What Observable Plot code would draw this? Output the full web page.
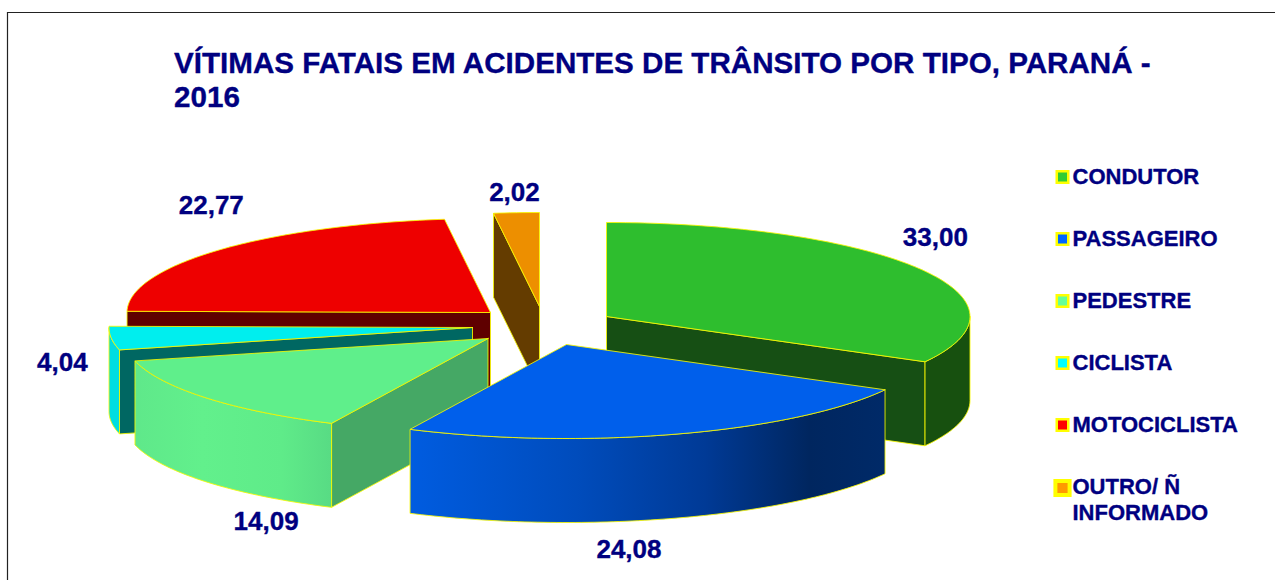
<!DOCTYPE html>
<html lang="pt">
<head>
<meta charset="utf-8">
<title>Vítimas fatais em acidentes de trânsito por tipo, Paraná - 2016</title>
<script src="https://cdn.jsdelivr.net/npm/d3@7"></script>
<script src="https://cdn.jsdelivr.net/npm/@observablehq/plot@0.6"></script>
<style>
  html, body { margin: 0; padding: 0; background: #fff; }
  svg { display: block; }
</style>
</head>
<body>
<div id="chart"></div>
<script>
// --- Data ---
const categories = ["CONDUTOR", "PASSAGEIRO", "PEDESTRE", "CICLISTA", "MOTOCICLISTA", "OUTRO/ Ñ\nINFORMADO"];
const values = [33.00, 24.08, 14.09, 4.04, 22.77, 2.02];
const titleText = "VÍTIMAS FATAIS EM ACIDENTES DE TRÂNSITO POR TIPO, PARANÁ -\n2016";

// --- Styles ---
const navy = "#000080";
const edge = "#f8f800";
const topColors = ["#2EBE2E", "#005FEB", "#5FEF8B", "#00EEEE", "#EE0000", "#ED8F00"];
const cutColors = ["#164F14", "#002A63", "#45A865", "#006762", "#5F0000", "#643C00"];
const rimColors = ["#17500F", "url(#rimBlue)", "url(#rimGreen)", "#00DDE0", "#5F0000", "#643C00"];
const keyColors = ["#33CC33", "#0066FF", "#66FF99", "#00FFFF", "#FF0000", "#FF9900"];

// --- Layout of the exploded 3-D pie ---
const rx = 363.5, ry = 94, depth = 84;
const apexX = [606, 566, 487.5, 472, 490, 539];
const apexY = [316, 344, 338, 327, 312, 306];
const labelDX = [16, -49, 60, -49, -8, -2];
const labelDY = [-30.5, 115.5, 123.5, 24.5, -44.5, -20.5];
const drawOrder = [5, 0, 4, 3, 2, 1];
const keyX = 1062, keyTextX = 1072;
const keyY = [176.5, 238.5, 300.5, 362.5, 424.5, 487.5];
const keyR = [6.5, 6.5, 6.5, 6.5, 6.5, 8];
const keyStroke = [2.5, 2.5, 2.5, 2.5, 2.5, 4];

const arcs = d3.pie().sort(null).startAngle(0).endAngle(2 * Math.PI)(values);

const rim = (i, a, dz = 0) => ({
  x: apexX[i] + rx * Math.sin(a),
  y: apexY[i] - ry * Math.cos(a) + dz
});
const sweep = (a0, a1) => {
  const n = Math.max(1, Math.ceil((a1 - a0) / (Math.PI / 180)));
  return d3.range(n + 1).map(k => a0 + (a1 - a0) * k / n);
};
const closed = pts => [...pts, pts[0]];

function polygon(pts, fill) {
  return Plot.line(closed(pts), {
    x: "x", y: "y", fill, stroke: edge, strokeWidth: 0.85, strokeLinejoin: "miter", curve: "linear"
  });
}

function sliceMarks(i) {
  const { startAngle: a0, endAngle: a1 } = arcs[i];
  const apex = { x: apexX[i], y: apexY[i] };
  const apexLow = { x: apexX[i], y: apexY[i] + depth };
  const marks = [];
  // flat cut faces turned towards the viewer
  if (Math.sin(a0) < 0) {
    marks.push(polygon([apex, rim(i, a0), rim(i, a0, depth), apexLow], cutColors[i]));
  }
  if (Math.sin(a1) > 0) {
    marks.push(polygon([apex, rim(i, a1), rim(i, a1, depth), apexLow], cutColors[i]));
  }
  // outer curved wall, only where it faces the viewer
  const f0 = Math.max(a0, Math.PI / 2), f1 = Math.min(a1, 3 * Math.PI / 2);
  if (f1 > f0) {
    const ang = sweep(f0, f1);
    marks.push(polygon([...ang.map(a => rim(i, a)), ...ang.slice().reverse().map(a => rim(i, a, depth))], rimColors[i]));
  }
  // top face
  marks.push(polygon([apex, ...sweep(a0, a1).map(a => rim(i, a))], topColors[i]));
  return marks;
}

function gradients() {
  const defs = d3.create("svg:defs");
  const add = (id, x1, x2, stops) => {
    const g = defs.append("linearGradient").attr("id", id)
      .attr("gradientUnits", "userSpaceOnUse")
      .attr("x1", x1).attr("x2", x2).attr("y1", 0).attr("y2", 0);
    stops.forEach(([o, c]) => g.append("stop").attr("offset", o).attr("stop-color", c));
  };
  add("rimBlue", 410, 885, [[0, "#005CE0"], [0.35, "#004CBC"], [0.62, "#003A96"], [0.84, "#00265F"], [1, "#002A68"]]);
  add("rimGreen", 133, 331, [[0, "#5FE88A"], [0.35, "#62F08C"], [0.75, "#5FEB89"], [1, "#58DB84"]]);
  return defs.node();
}

const labels = values.map((v, i) => {
  const mid = (arcs[i].startAngle + arcs[i].endAngle) / 2;
  const p = rim(i, mid);
  return { text: v.toFixed(2).replace(".", ","), x: p.x + labelDX[i], y: p.y + labelDY[i] };
});
const key = categories.map((name, i) => ({ name, i, y: keyY[i] }));
const heavy = { stroke: navy, strokeWidth: 0.35, fill: navy };

const chart = Plot.plot({
  width: 1275,
  height: 580,
  margin: 0,
  style: { background: "#fff", overflow: "hidden" },
  x: { domain: [0, 1275], range: [0, 1275], axis: null },
  y: { domain: [0, 580], range: [0, 580], axis: null },
  marks: [
    gradients,
    Plot.ruleY([12], { x1: 7, x2: 1275, stroke: "#222", strokeWidth: 1.2 }),
    Plot.ruleX([7], { y1: 12, y2: 580, stroke: "#222", strokeWidth: 1.2 }),
    Plot.text([titleText], {
      x: 173.5, y: 79, text: d => d, textAnchor: "start", fontFamily: "Liberation Sans",
      fontWeight: "bold", fontSize: 29.6, lineHeight: 1.14, ...heavy
    }),
    ...drawOrder.flatMap(sliceMarks),
    Plot.text(labels, {
      x: "x", y: "y", text: "text", fontFamily: "Liberation Sans", fontWeight: "bold",
      fontSize: 26, textAnchor: "middle", ...heavy
    }),
    ...key.map(d => Plot.dot([d], {
      x: keyX, y: "y", r: keyR[d.i], symbol: "square",
      fill: keyColors[d.i], stroke: "#FFFF00", strokeWidth: keyStroke[d.i]
    })),
    ...key.map(d => Plot.text([d], {
      x: keyTextX, y: d.i === 5 ? d.y + 10.5 : d.y - 1, text: "name", textAnchor: "start",
      fontFamily: "Liberation Sans", fontWeight: "bold", fontSize: 22, lineHeight: 1.18, ...heavy
    }))
  ]
});
document.getElementById("chart").append(chart);
</script>
</body>
</html>
